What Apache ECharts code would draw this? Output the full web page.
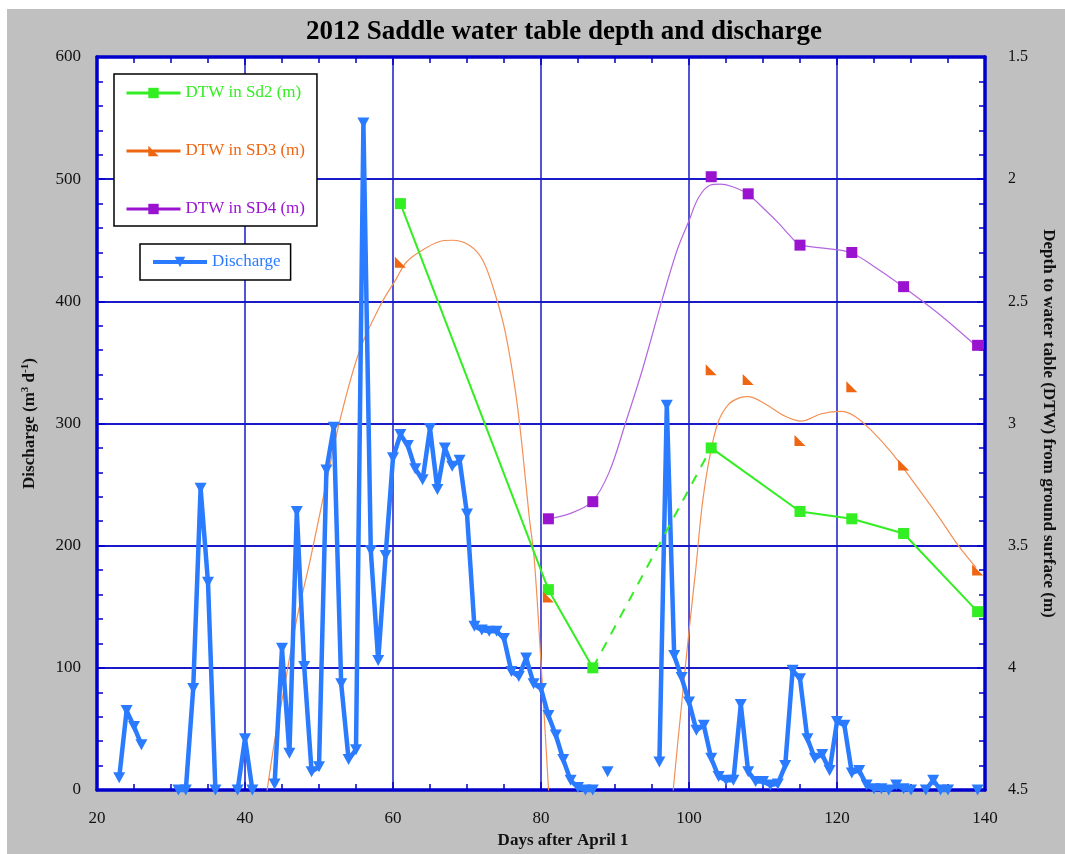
<!DOCTYPE html>
<html>
<head>
<meta charset="utf-8">
<title>2012 Saddle water table depth and discharge</title>
<script src="https://cdn.jsdelivr.net/npm/echarts@6/dist/echarts.min.js"></script>
<style>
  html, body { margin: 0; padding: 0; background: #ffffff; }
  #chart { position: absolute; left: 7px; top: 9px; width: 1058px; height: 845px; }
</style>
</head>
<body>
<div id="chart"></div>
<script>
// ---- Discharge (m3 d-1) by day after April 1; null marks days without a record ----
const qDays = [
  23, 24, 25, 26, 27,
  31, 32, 33, 34, 35, 36, 37,
  39, 40, 41, 42,
  44, 45, 46, 47, 48, 49, 50, 51, 52, 53, 54, 55, 56, 57, 58, 59, 60,
  61, 62, 63, 64, 65, 66, 67, 68, 69, 70, 71, 72, 73, 74, 75, 76, 77, 78, 79, 80,
  81, 82, 83, 84, 85, 86, 87, 88,
  89, 90,
  96, 97, 98, 99, 100, 101, 102, 103, 104, 105, 106, 107, 108, 109, 110,
  111, 112, 113, 114, 115, 116, 117, 118, 119, 120, 121, 122, 123, 124, 125,
  126, 127, 128, 129, 130, 131,
  132, 133, 134, 135, 136,
  139
];
const qValues = [
  10, 65, 52, 37, null,
  0, 0, 83, 247, 170, 0, null,
  0, 42, 0, null,
  5, 116, 30, 228, 101, 15, 19, 262, 297, 87, 25, 33, 546, 196, 106, 192, 272,
  291, 282, 263, 254, 296, 246, 280, 265, 270, 226, 134, 131, 130, 130, 124, 97, 93, 108, 87, 83,
  61, 45, 25, 8, 2, 0, 0, null,
  15, null,
  23, 315, 110, 92, 72, 49, 53, 26, 11, 8, 8, 70, 15, 7, 7,
  4, 5, 20, 98, 91, 42, 26, 29, 16, 56, 53, 14, 16, 4, 1,
  1, 0, 4, 1, 0, null,
  0, 8, 0, 0, null,
  0
];

// ---- Depth to water table (m) at the three wells ----
const sd2Days  = [61, 81, 87, 103, 115, 122, 129, 139];
const sd2Depth = [2.10, 3.68, 4.00, 3.10, 3.36, 3.39, 3.45, 3.77];
// no reading between these two visits: bridged with a dashed segment
const sd2GapDays = [87, 103];

const sd3Days  = [61, 81, 103, 108, 115, 122, 129, 139];
const sd3Depth = [2.34, 3.71, 2.78, 2.82, 3.07, 2.85, 3.17, 3.60];

const sd4Days  = [81, 87, 103, 108, 115, 122, 129, 139];
const sd4Depth = [3.39, 3.32, 1.99, 2.06, 2.27, 2.30, 2.44, 2.68];

// ---- Smoothed trend curves (two pieces for SD3, split where it leaves the axis) ----
const sd3FitDays  = [42.9, 44, 45.2, 47, 48.8, 50.8, 52.8, 55.5, 58.4, 60.4, 61.8, 64, 66.2, 68, 70.3, 72.1, 73.9, 75.2, 76.6, 77.5, 78.4, 79.1, 80.0, 81.0, 81.3,
                     89,
                     97.6, 97.9, 99.0, 100.0, 100.9, 101.8, 102.9, 104.0, 105.4, 106.8, 108, 110.3, 113, 115.2, 117.9, 120.6, 122.4, 124.7, 127.4, 130.1, 133.7, 136.4, 138.8];
const sd3FitDepth = [4.52, 4.30, 4.10, 3.80, 3.56, 3.27, 2.99, 2.70, 2.51, 2.41, 2.34, 2.29, 2.256, 2.25, 2.27, 2.33, 2.48, 2.63, 2.88, 3.11, 3.38, 3.56, 3.98, 4.49, 4.65,
                     null,
                     4.62, 4.49, 4.15, 3.85, 3.60, 3.33, 3.12, 2.99, 2.92, 2.895, 2.89, 2.92, 2.97, 2.99, 2.96, 2.95, 2.97, 3.03, 3.12, 3.23, 3.38, 3.50, 3.59];

const sd4FitDays  = [81, 83.8, 86.9, 89.2, 91.4, 93.7, 96.4, 98.4, 100, 101.3, 102.9, 104.2, 105.8, 107.8, 110.3, 112.1, 113.9, 114.9, 117.5, 121.8, 125.6, 128.9, 133.7, 138.7];
const sd4FitDepth = [3.39, 3.37, 3.32, 3.20, 3.00, 2.78, 2.49, 2.29, 2.17, 2.075, 2.024, 2.02, 2.03, 2.058, 2.126, 2.18, 2.24, 2.267, 2.28, 2.30, 2.37, 2.44, 2.55, 2.68];

// ---- Axis ticks ----
const dayTicks   = [20, 40, 60, 80, 100, 120, 140];
const qTicks     = [0, 100, 200, 300, 400, 500, 600];
const depthTicks = [1.5, 2, 2.5, 3, 3.5, 4, 4.5];

const pairs = (xs, ys) => xs.map((x, i) => [x, ys[i]]);
const sd2Solid = [];
sd2Days.forEach((d, i) => {
  sd2Solid.push([d, sd2Depth[i]]);
  if (d === sd2GapDays[0]) sd2Solid.push([(sd2GapDays[0] + sd2GapDays[1]) / 2, null]);
});
const sd2Dashed = sd2GapDays.map(d => [d, sd2Depth[sd2Days.indexOf(d)]]);

const SERIF = '"Liberation Serif", "Times New Roman", serif';
const AXIS_BLUE = '#0000cc';
const GRID_BLUE = '#1a1ac8';

const C_Q   = '#2a7bff';
const C_SD2 = '#33ee22';
const C_SD3 = '#ee6611';
const C_SD3_FIT = '#f39055';
const C_SD4 = '#9a14d0';
const C_SD4_FIT = '#b466e0';

const triDown = 'path://M0,0 L10,0 L5,10 Z';
const triCorner = 'path://M0,0 L0,10 L10,10 Z';

function tickAxis(extra) {
  return Object.assign({
    axisLine: { onZero: false, lineStyle: { color: AXIS_BLUE, width: 3.5 } },
    axisTick: { inside: true, length: 8, lineStyle: { color: AXIS_BLUE, width: 1.5 } },
    minorTick: { show: true, length: 6, lineStyle: { color: AXIS_BLUE, width: 1.5 } },
    axisLabel: { fontFamily: SERIF, fontSize: 17, color: '#111' }
  }, extra);
}

const chart = echarts.init(document.getElementById('chart'), null, { renderer: 'canvas' });

chart.setOption({
  animation: false,
  backgroundColor: '#c0c0c0',
  graphic: [{
    type: 'text',
    x: 557, y: 23,
    style: {
      text: '2012 Saddle water table depth and discharge',
      fontFamily: SERIF, fontWeight: 'bold', fontSize: 27,
      fill: '#000', align: 'center', verticalAlign: 'middle'
    }
  }],
  grid: {
    left: 90, right: 78, top: 48, bottom: 64,
    show: true, backgroundColor: '#ffffff', borderWidth: 0
  },
  legend: [{
    orient: 'vertical',
    left: 107, top: 65,
    padding: [10, 12, 8, 11],
    itemWidth: 54, itemHeight: 13, itemGap: 40,
    backgroundColor: '#ffffff', borderColor: '#000', borderWidth: 1.5,
    selectedMode: false,
    lineStyle: { width: 3, opacity: 1 },
    textStyle: { fontFamily: SERIF, fontSize: 17, lineHeight: 18 },
    data: [
      { name: 'DTW in Sd2 (m)', textStyle: { color: C_SD2 } },
      { name: 'DTW in SD3 (m)', textStyle: { color: C_SD3 } },
      { name: 'DTW in SD4 (m)', textStyle: { color: C_SD4 } }
    ]
  }, {
    orient: 'vertical',
    left: 133, top: 235,
    padding: [9, 10, 9, 11],
    itemWidth: 54, itemHeight: 13,
    backgroundColor: '#ffffff', borderColor: '#000', borderWidth: 1.5,
    selectedMode: false,
    lineStyle: { width: 4, opacity: 1 },
    textStyle: { fontFamily: SERIF, fontSize: 17, lineHeight: 18 },
    data: [{ name: 'Discharge', textStyle: { color: C_Q } }]
  }],
  xAxis: [
    tickAxis({
      type: 'value', position: 'bottom',
      min: dayTicks[0], max: dayTicks[dayTicks.length - 1], interval: dayTicks[1] - dayTicks[0],
      minorTick: { show: true, splitNumber: 4, length: 6, lineStyle: { color: AXIS_BLUE, width: 1.5 } },
      splitLine: { show: true, lineStyle: { color: GRID_BLUE, width: 1.5 } },
      axisLabel: { fontFamily: SERIF, fontSize: 17, color: '#111', margin: 20 },
      name: 'Days after April 1', nameLocation: 'middle', nameGap: 42,
      nameTextStyle: { fontFamily: SERIF, fontWeight: 'bold', fontSize: 17, color: '#111', padding: [0, 0, 0, 44] }
    }),
    tickAxis({
      type: 'value', position: 'top',
      min: dayTicks[0], max: dayTicks[dayTicks.length - 1], interval: dayTicks[1] - dayTicks[0],
      minorTick: { show: true, splitNumber: 4, length: 6, lineStyle: { color: AXIS_BLUE, width: 1.5 } },
      splitLine: { show: false },
      axisLabel: { show: false }
    })
  ],
  yAxis: [
    tickAxis({
      type: 'value', position: 'left',
      min: qTicks[0], max: qTicks[qTicks.length - 1], interval: qTicks[1] - qTicks[0],
      minorTick: { show: true, splitNumber: 5, length: 6, lineStyle: { color: AXIS_BLUE, width: 1.5 } },
      splitLine: { show: true, lineStyle: { color: GRID_BLUE, width: 2 } },
      axisLabel: { fontFamily: SERIF, fontSize: 17, color: '#111', margin: 16 },
      name: 'Discharge (m{sup|3} d{sup|-1})', nameLocation: 'middle', nameGap: 58,
      nameTextStyle: {
        fontFamily: SERIF, fontWeight: 'bold', fontSize: 17, color: '#111', lineHeight: 19,
        rich: { sup: { fontFamily: SERIF, fontWeight: 'bold', fontSize: 11, color: '#111', verticalAlign: 'top', lineHeight: 11 } }
      }
    }),
    tickAxis({
      type: 'value', position: 'right', inverse: true,
      min: depthTicks[0], max: depthTicks[depthTicks.length - 1], interval: depthTicks[1] - depthTicks[0],
      minorTick: { show: true, splitNumber: 5, length: 6, lineStyle: { color: AXIS_BLUE, width: 1.5 } },
      splitLine: { show: false },
      axisLabel: { fontFamily: SERIF, fontSize: 16, color: '#111', margin: 23 },
      name: 'Depth to water table (DTW) from ground surface (m)', nameLocation: 'middle',
      nameGap: 55, nameRotate: -90,
      nameTextStyle: { fontFamily: SERIF, fontWeight: 'bold', fontSize: 17, color: '#111' }
    })
  ],
  series: [
    {
      name: 'SD3 trend', type: 'line', xAxisIndex: 0, yAxisIndex: 1,
      data: pairs(sd3FitDays, sd3FitDepth), smooth: 0.35, symbol: 'none',
      lineStyle: { color: C_SD3_FIT, width: 1.2 }, silent: true, z: 2
    },
    {
      name: 'SD4 trend', type: 'line', xAxisIndex: 0, yAxisIndex: 1,
      data: pairs(sd4FitDays, sd4FitDepth), smooth: 0.35, symbol: 'none',
      lineStyle: { color: C_SD4_FIT, width: 1.2 }, silent: true, z: 2
    },
    {
      name: 'Discharge', type: 'line', xAxisIndex: 0, yAxisIndex: 0,
      data: pairs(qDays, qValues), connectNulls: false,
      symbol: triDown, symbolSize: [12, 11], showSymbol: true,
      itemStyle: { color: C_Q }, lineStyle: { color: C_Q, width: 4.5 },
      clip: false, z: 3
    },
    {
      name: 'DTW in Sd2 (m)', type: 'line', xAxisIndex: 0, yAxisIndex: 1,
      data: sd2Solid, connectNulls: false,
      symbol: 'rect', symbolSize: 11,
      itemStyle: { color: C_SD2 }, lineStyle: { color: C_SD2, width: 2 }, z: 4
    },
    {
      name: 'Sd2 bridge', type: 'line', xAxisIndex: 0, yAxisIndex: 1,
      data: sd2Dashed, symbol: 'none',
      lineStyle: { color: C_SD2, width: 2, type: [10, 9] }, z: 4
    },
    {
      name: 'DTW in SD3 (m)', type: 'line', xAxisIndex: 0, yAxisIndex: 1,
      data: pairs(sd3Days, sd3Depth),
      symbol: triCorner, symbolSize: 11,
      itemStyle: { color: C_SD3 }, lineStyle: { color: C_SD3, width: 3, opacity: 0 }, z: 5
    },
    {
      name: 'DTW in SD4 (m)', type: 'line', xAxisIndex: 0, yAxisIndex: 1,
      data: pairs(sd4Days, sd4Depth),
      symbol: 'rect', symbolSize: 11,
      itemStyle: { color: C_SD4 }, lineStyle: { color: C_SD4, width: 3, opacity: 0 }, z: 5
    }
  ]
});
</script>
</body>
</html>
